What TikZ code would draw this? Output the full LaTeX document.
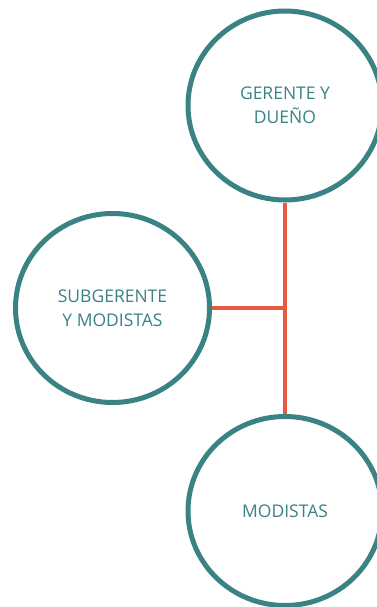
\documentclass[tikz,border=0pt]{standalone}
\usepackage{fontspec}
\setmainfont{Open Sans}
\usetikzlibrary{shapes.geometric,backgrounds}
\definecolor{teal1}{HTML}{3B8284}
\definecolor{redline}{HTML}{E85A3F}
\tikzset{
  bubble/.style={ellipse, draw=teal1, line width=5pt, fill=white,
    minimum width=194pt, minimum height=189pt, inner sep=0pt,
    text=teal1, align=center, font=\fontsize{17.5}{24}\selectfont},
  link/.style={draw=redline, line width=4pt}
}
\begin{document}
\begin{tikzpicture}[x=1pt,y=-1pt]
\useasboundingbox (0,0) rectangle (377,607);
\clip (0,0) rectangle (377,607);
\node[bubble] (c1) at (285,105.5) {GERENTE Y\\DUEÑO};
\node[bubble] (c2) at (112.5,308) {SUBGERENTE\\Y MODISTAS};
\node[bubble] (c3) at (285,511) {MODISTAS};
\coordinate (j) at (c1.south |- c2.east);
\begin{scope}[on background layer]
\draw[link] (c1.south) -- (c3.north);
\draw[link] (c2.east) -- (j);
\end{scope}
\end{tikzpicture}
\end{document}
